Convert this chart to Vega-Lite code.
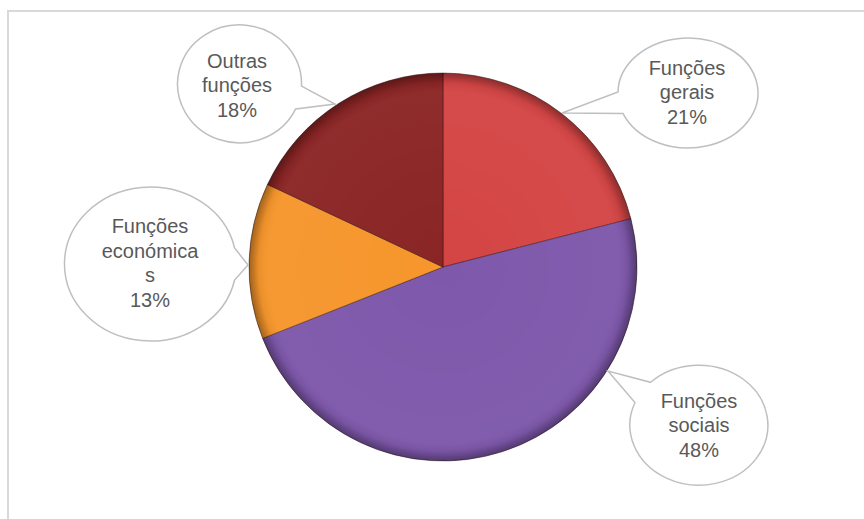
{
  "$schema": "https://vega.github.io/schema/vega-lite/v6.json",
  "width": 842,
  "height": 504,
  "autosize": {"type": "none"},
  "padding": {"left": 22, "top": 15, "right": 0, "bottom": 0},
  "background": "white",
  "config": {"view": {"stroke": null}},
  "data": {
    "values": [
      {"idx": 1, "category": "Funções gerais", "value": 21, "label": "Funções\ngerais\n21%"},
      {"idx": 2, "category": "Funções sociais", "value": 48, "label": "Funções\nsociais\n48%"},
      {"idx": 3, "category": "Funções económicas", "value": 13, "label": "Funções\neconómica\ns\n13%"},
      {"idx": 4, "category": "Outras funções", "value": 18, "label": "Outras\nfunções\n18%"}
    ]
  },
  "layer": [
    {
      "data": {"values": [{"element": "chart area border"}]},
      "mark": {"type": "point", "shape": "M-435,262 L-435,-256 L430,-256", "size": 4, "filled": false, "stroke": "#d9d9d9", "strokeWidth": 2, "opacity": 1},
      "encoding": {}
    },
    {
      "mark": {"type": "arc", "outerRadius": 194, "stroke": "#2a0a0a", "strokeOpacity": 0.45, "strokeWidth": 1},
      "encoding": {
        "theta": {"field": "value", "type": "quantitative", "stack": true},
        "order": {"field": "idx", "type": "quantitative"},
        "color": {
          "field": "category",
          "type": "nominal",
          "scale": {
            "domain": ["Funções gerais", "Funções sociais", "Funções económicas", "Outras funções"],
            "range": ["#d44545", "#7e58ab", "#f6962c", "#8b2525"]
          },
          "legend": null
        }
      }
    },
    {
      "mark": {
        "type": "arc",
        "outerRadius": 194,
        "fill": {
          "gradient": "radial",
          "x1": 0.5, "y1": 0.5, "r1": 0,
          "x2": 0.5, "y2": 0.5, "r2": 0.5,
          "stops": [
            {"offset": 0, "color": "rgba(255,255,255,0)"},
            {"offset": 0.9, "color": "rgba(255,255,255,0.03)"},
            {"offset": 0.95, "color": "rgba(0,0,0,0.05)"},
            {"offset": 1, "color": "rgba(0,0,0,0.35)"}
          ]
        }
      },
      "encoding": {"theta": {"aggregate": "sum", "field": "value", "type": "quantitative"}}
    },
    {
      "mark": {"type": "point", "size": 4, "filled": true, "fill": "white", "stroke": "#bfbfbf", "strokeWidth": 1.5, "opacity": 1},
      "encoding": {
        "shape": {
          "field": "category",
          "type": "nominal",
          "scale": {
            "domain": ["Funções gerais", "Funções sociais", "Funções económicas", "Outras funções"],
            "range": [
              "M175,-175 A70,55 0 1,1 180.1,-153.4 L119,-154 Z",
              "M207.6,115.3 A69,60 0 1,1 192,135.5 L165,104 Z",
              "M-208.4,-19 A86,77 0 1,0 -208.4,13 L-195,-2 Z",
              "M-141.5,-180.9 A62,59 0 1,0 -147.3,-158.1 L-108,-163 Z"
            ]
          },
          "legend": null
        }
      }
    },
    {
      "transform": [{"filter": "datum.category == 'Funções gerais'"}],
      "mark": {"type": "text", "font": "Liberation Sans", "fontSize": 20, "color": "#595959", "align": "center", "baseline": "middle", "lineBreak": "\n", "lineHeight": 24.5, "dx": 244, "dy": -198.5},
      "encoding": {"text": {"field": "label"}}
    },
    {
      "transform": [{"filter": "datum.category == 'Funções sociais'"}],
      "mark": {"type": "text", "font": "Liberation Sans", "fontSize": 20, "color": "#595959", "align": "center", "baseline": "middle", "lineBreak": "\n", "lineHeight": 24.5, "dx": 256, "dy": 134.5},
      "encoding": {"text": {"field": "label"}}
    },
    {
      "transform": [{"filter": "datum.category == 'Funções económicas'"}],
      "mark": {"type": "text", "font": "Liberation Sans", "fontSize": 20, "color": "#595959", "align": "center", "baseline": "middle", "lineBreak": "\n", "lineHeight": 24.5, "dx": -293, "dy": -39.75},
      "encoding": {"text": {"field": "label"}}
    },
    {
      "transform": [{"filter": "datum.category == 'Outras funções'"}],
      "mark": {"type": "text", "font": "Liberation Sans", "fontSize": 20, "color": "#595959", "align": "center", "baseline": "middle", "lineBreak": "\n", "lineHeight": 24.5, "dx": -206, "dy": -205.5},
      "encoding": {"text": {"field": "label"}}
    }
  ]
}
